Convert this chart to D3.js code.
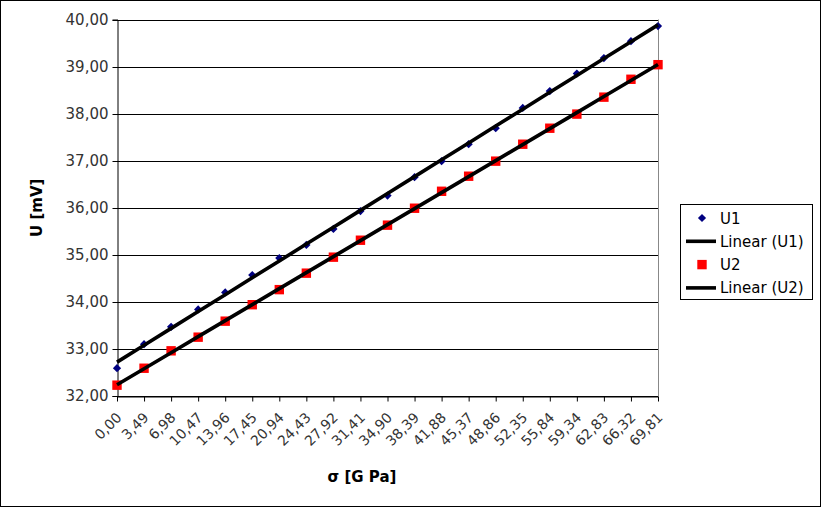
<!DOCTYPE html>
<html><head><meta charset="utf-8">
<script src="https://cdn.jsdelivr.net/npm/d3@7"></script>
<style>
html,body{margin:0;padding:0;background:#fff;}
svg{display:block;}
text{font-family:"DejaVu Sans",sans-serif;}
</style></head>
<body>
<script>
const categories = ["0,00","3,49","6,98","10,47","13,96","17,45","20,94","24,43","27,92","31,41","34,90","38,39","41,88","45,37","48,86","52,35","55,84","59,34","62,83","66,32","69,81"];
const u1 = [32.59,33.10,33.47,33.84,34.20,34.57,34.93,35.21,35.55,35.93,36.26,36.65,36.99,37.35,37.69,38.12,38.48,38.85,39.18,39.54,39.86];
const u2 = [32.23,32.59,32.96,33.25,33.59,33.94,34.26,34.61,34.95,35.31,35.63,35.99,36.35,36.67,36.99,37.35,37.69,37.99,38.35,38.73,39.04];
const yTicks = [32,33,34,35,36,37,38,39,40];

const W = 821, H = 507;
const svg = d3.select("body").append("svg").attr("width", W).attr("height", H);
svg.append("rect").attr("x",0.5).attr("y",0.5).attr("width",W-1).attr("height",H-1).attr("fill","#fff").attr("stroke","#000");

const pLeft = 117, pRight = 658, pTop = 19.5, pBottom = 396;
const x = d3.scalePoint().domain(categories).range([pLeft, pRight]);
const y = d3.scaleLinear().domain([32, 40]).range([pBottom, pTop]);
const fmt = v => d3.format(".2f")(v).replace(".", ",");

// gridlines
svg.append("g").selectAll("line").data(yTicks).join("line")
  .attr("x1", pLeft).attr("x2", pRight)
  .attr("y1", d => Math.round(y(d)) + 0.5).attr("y2", d => Math.round(y(d)) + 0.5)
  .attr("stroke", "#000").attr("stroke-width", 1);

// right border
svg.append("line").attr("x1", pRight + 0.5).attr("x2", pRight + 0.5).attr("y1", pTop).attr("y2", pBottom)
  .attr("stroke", "#888");

// y axis
const yAxis = svg.append("g").attr("transform", `translate(${pLeft + 0.5},0)`)
  .call(d3.axisLeft(y).tickValues(yTicks).tickFormat(fmt).tickSize(5).tickPadding(4));
yAxis.select(".domain").attr("stroke", "#000");
yAxis.selectAll(".tick line").attr("stroke", "#000");
yAxis.selectAll(".tick").attr("transform", d => `translate(0,${Math.round(y(d)) + 0.5})`);
yAxis.selectAll("text").attr("font-size", 15).attr("fill", "#333").attr("font-family", "DejaVu Sans");

// x axis
const xAxis = svg.append("g").attr("transform", `translate(0,${pBottom + 0.5})`)
  .call(d3.axisBottom(x).tickSize(5).tickSizeOuter(0));
xAxis.select(".domain").attr("stroke", "#000");
xAxis.selectAll(".tick line").attr("stroke", "#000");
xAxis.selectAll("text").attr("font-size", 14).attr("fill", "#333").attr("font-family", "DejaVu Sans")
  .attr("text-anchor", "end").attr("dy", null).attr("y", 0)
  .attr("transform", "translate(5,22) rotate(-45)");

// axis titles
svg.append("text").attr("transform", `translate(42,${(pTop + pBottom) / 2}) rotate(-90)`)
  .attr("text-anchor", "middle").attr("font-size", 15).attr("font-weight", "bold").attr("fill", "#000").text("U [mV]");
svg.append("text").attr("x", 362).attr("y", 482)
  .attr("text-anchor", "middle").attr("font-size", 15).attr("font-weight", "bold").attr("fill", "#000").text("σ [G Pa]");

// markers
const diamond = d3.symbol().type(d3.symbolSquare).size(34);
svg.append("g").selectAll("path").data(u1).join("path")
  .attr("d", diamond).attr("transform", (d, i) => `translate(${x(categories[i])},${y(d)}) rotate(45)`)
  .attr("fill", "#000080");
svg.append("g").selectAll("rect").data(u2).join("rect")
  .attr("x", (d, i) => x(categories[i]) - 4.7).attr("y", d => y(d) - 4.7)
  .attr("width", 9.4).attr("height", 9.4).attr("fill", "#ff0000");

// linear trendlines (least squares over category index)
function fit(vals) {
  const n = vals.length, xs = d3.range(n);
  const mx = d3.mean(xs), my = d3.mean(vals);
  const b = d3.sum(xs, (xi, i) => (xi - mx) * (vals[i] - my)) / d3.sum(xs, xi => (xi - mx) ** 2);
  const a = my - b * mx;
  return xs.map(xi => a + b * xi);
}
const line = d3.line().x((d, i) => x(categories[i])).y(d => y(d));
[u1, u2].forEach(s => {
  svg.append("path").datum(fit(s)).attr("d", line).attr("fill", "none")
    .attr("stroke", "#000").attr("stroke-width", 3.6);
});

// legend
const lg = svg.append("g");
lg.append("rect").attr("x", 680.5).attr("y", 204.5).attr("width", 132).attr("height", 95)
  .attr("fill", "#fff").attr("stroke", "#000");
const items = [
  {label: "U1", type: "diamond"},
  {label: "Linear (U1)", type: "line"},
  {label: "U2", type: "square"},
  {label: "Linear (U2)", type: "line"}
];
items.forEach((it, i) => {
  const cy = 218 + i * 23.3;
  if (it.type === "diamond") lg.append("path").attr("d", diamond).attr("transform", `translate(702,${cy}) rotate(45)`).attr("fill", "#000080");
  else if (it.type === "square") lg.append("rect").attr("x", 697.3).attr("y", cy - 4.7).attr("width", 9.4).attr("height", 9.4).attr("fill", "#ff0000");
  else lg.append("line").attr("x1", 686).attr("x2", 716).attr("y1", cy).attr("y2", cy).attr("stroke", "#000").attr("stroke-width", 3.6);
  lg.append("text").attr("x", 720).attr("y", cy + 5.5).attr("font-size", 15).attr("fill", "#000").text(it.label);
});
</script>
</body></html>
